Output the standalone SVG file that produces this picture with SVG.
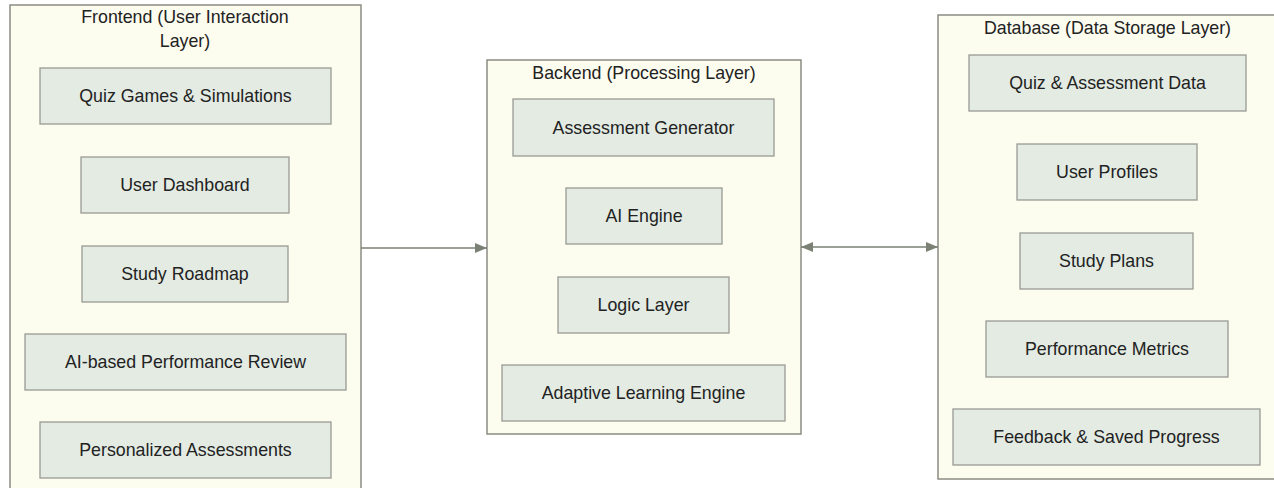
<svg xmlns="http://www.w3.org/2000/svg" width="1274" height="488" viewBox="0 0 1274 488">
<defs>
<style>
.bg{fill:#ffffff}
.layer{fill:#fcfcef;stroke:#8c8c84;stroke-width:1.5}
.node{fill:#e3ebe3;stroke:#999a94;stroke-width:1.3}
.t{font-family:"Liberation Sans",Arial,sans-serif;font-size:17.8px;fill:#222222;text-anchor:middle;dominant-baseline:central}
.conn{stroke:#7b8275;stroke-width:1.5;fill:none}
</style>
<marker id="ah" viewBox="0 0 12 10" refX="12" refY="5" markerWidth="12" markerHeight="10" markerUnits="userSpaceOnUse" orient="auto-start-reverse">
<path d="M0,0 L12,5 L0,10 z" fill="#7b8275"/>
</marker>
</defs>
<rect class="bg" x="0" y="0" width="1274" height="488"/>

<g id="frontend">
<rect class="layer" x="10" y="5" width="351" height="500"/>
<text class="t" x="185" y="17">Frontend (User Interaction</text>
<text class="t" x="185" y="41">Layer)</text>
</g>
<g id="quiz-games">
<rect class="node" x="40" y="68" width="291" height="56"/>
<text class="t" x="185.5" y="96">Quiz Games &amp; Simulations</text>
</g>
<g id="user-dashboard">
<rect class="node" x="81" y="157" width="208" height="56"/>
<text class="t" x="185" y="185">User Dashboard</text>
</g>
<g id="study-roadmap">
<rect class="node" x="82" y="246" width="206" height="56"/>
<text class="t" x="185" y="274">Study Roadmap</text>
</g>
<g id="ai-review">
<rect class="node" x="25" y="334" width="321" height="56"/>
<text class="t" x="185.5" y="362">AI-based Performance Review</text>
</g>
<g id="personalized">
<rect class="node" x="40" y="422" width="291" height="56"/>
<text class="t" x="185.5" y="450">Personalized Assessments</text>
</g>

<g id="backend">
<rect class="layer" x="487" y="60" width="314" height="374"/>
<text class="t" x="644" y="73">Backend (Processing Layer)</text>
</g>
<g id="assessment-generator">
<rect class="node" x="513" y="99" width="261" height="57"/>
<text class="t" x="643.5" y="127.5">Assessment Generator</text>
</g>
<g id="ai-engine">
<rect class="node" x="566" y="188" width="156" height="56"/>
<text class="t" x="644" y="216">AI Engine</text>
</g>
<g id="logic-layer">
<rect class="node" x="558" y="277" width="171" height="56"/>
<text class="t" x="643.5" y="305">Logic Layer</text>
</g>
<g id="adaptive">
<rect class="node" x="502" y="365" width="283" height="56"/>
<text class="t" x="643.5" y="393">Adaptive Learning Engine</text>
</g>

<g id="database">
<rect class="layer" x="938" y="15" width="350" height="464"/>
<text class="t" x="1107.5" y="28">Database (Data Storage Layer)</text>
</g>
<g id="quiz-data">
<rect class="node" x="969" y="55" width="277" height="56"/>
<text class="t" x="1107.5" y="83">Quiz &amp; Assessment Data</text>
</g>
<g id="user-profiles">
<rect class="node" x="1017" y="144" width="180" height="56"/>
<text class="t" x="1107" y="172">User Profiles</text>
</g>
<g id="study-plans">
<rect class="node" x="1020" y="233" width="173" height="56"/>
<text class="t" x="1106.5" y="261">Study Plans</text>
</g>
<g id="performance-metrics">
<rect class="node" x="986" y="321" width="242" height="56"/>
<text class="t" x="1107" y="349">Performance Metrics</text>
</g>
<g id="feedback">
<rect class="node" x="953" y="409" width="307" height="56"/>
<text class="t" x="1106.5" y="437">Feedback &amp; Saved Progress</text>
</g>

<g id="connectors">
<line class="conn" x1="361" y1="248" x2="487" y2="248" marker-end="url(#ah)"/>
<line class="conn" x1="801" y1="247" x2="938" y2="247" marker-start="url(#ah)" marker-end="url(#ah)"/>
</g>
</svg>
